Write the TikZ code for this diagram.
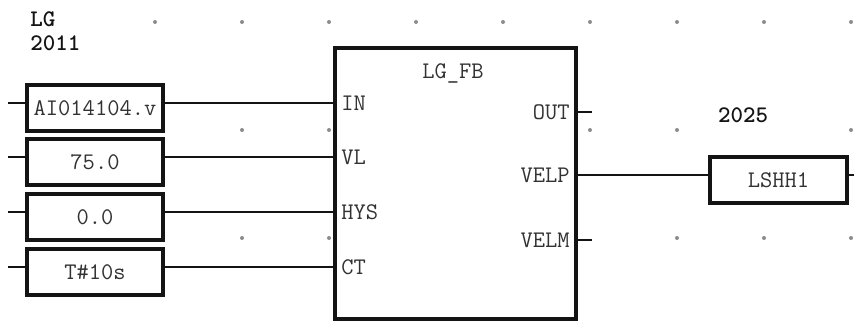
\documentclass[tikz,border=0pt]{standalone}
\usepackage{fontspec}
\usetikzlibrary{positioning}
\definecolor{inkline}{RGB}{20,20,20}
\definecolor{inktext}{RGB}{50,50,50}
\definecolor{griddot}{RGB}{140,140,140}
\tikzset{
  lbl/.style={font=\ttfamily\fontsize{11.9}{13}\selectfont,text=inktext,inner sep=0pt},
  tag/.style={lbl,font=\ttfamily\bfseries\fontsize{11.9}{13}\selectfont,text=inkline},
  constbox/.style={lbl,draw=inkline,line width=1.6pt,fill=white,minimum width=68pt,minimum height=23pt},
  fbblock/.style={draw=inkline,line width=1.6pt,fill=white,minimum width=120.5pt,minimum height=135.5pt,inner sep=0pt},
  pinl/.style={lbl,anchor=west},
  pinr/.style={lbl,anchor=east},
  wire/.style={draw=inkline,line width=1.4pt}
}

\begin{document}
\begin{tikzpicture}[x=0.5pt,y=-0.5pt]
\useasboundingbox (0,0) rectangle (854,324);
\newcommand{\constin}[4]{%
\coordinate (p#1) at (335,#2);
\coordinate (s#1) at (8,#2);
\node[constbox] (c#1) at (95,#2+5) {#3};
\node[pinl] (l#1) at (341,#2) {#4};
\draw[wire] (s#1) -- (c#1.west |- p#1);
\draw[wire] (c#1.east |- p#1) -- (p#1);}
% grid points
\foreach \gx in {155,242,329,416,503,590,677,764,851}
  \fill[griddot] (\gx,22) circle (1pt);
\foreach \gx in {242,329,590,677,851}
  \fill[griddot] (\gx,130) circle (1pt);
\foreach \gx in {242,329,677,764,851}
  \fill[griddot] (\gx,238) circle (1pt);
% block header
\node[tag,anchor=west] (blkname) at (30,19) {LG};
\node[tag,anchor=west] (blknum) at (30,43) {2011};
% function block
\node[fbblock] (fb) at (455.5,183.5) {};
\node[lbl] (fbtype) at (453,73) {LG\_FB};
\constin{IN}{103}{AI014104.v}{IN}
\constin{VL}{157}{75.0}{VL}
\constin{HYS}{212}{0.0}{HYS}
\constin{CT}{267}{T\#10s}{CT}
% outputs
\coordinate (pOUT) at (576,112);
\coordinate (eOUT) at (592,112);
\node[pinr] (lOUT) at (570,112) {OUT};
\draw[wire] (pOUT) -- (eOUT);
\coordinate (pVELP) at (576,175);
\coordinate (eVELP) at (854,175);
\node[pinr] (lVELP) at (570,175) {VELP};
\node[constbox,minimum width=68.5pt] (lshh) at (778.5,180) {LSHH1};
\draw[wire] (pVELP) -- (lshh.west |- pVELP);
\draw[wire] (lshh.east |- pVELP) -- (eVELP);
\node[tag] (lshhnum) at (743,115) {2025};
\coordinate (pVELM) at (576,240);
\coordinate (eVELM) at (592,240);
\node[pinr] (lVELM) at (570,240) {VELM};
\draw[wire] (pVELM) -- (eVELM);
\end{tikzpicture}
\end{document}
